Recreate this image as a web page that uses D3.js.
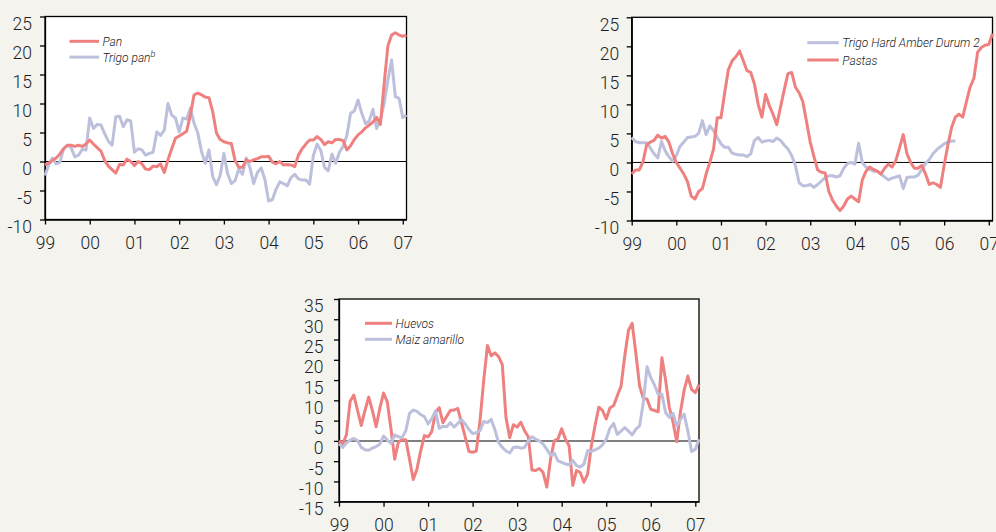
<!DOCTYPE html>
<html>
<head>
<meta charset="utf-8">
<script src="https://cdn.jsdelivr.net/npm/d3@7"></script>
<style>
    body { margin: 0; background: #f4f3ee; }
    svg { display: block; }
    .axis text { font-family: Roboto, "Liberation Sans", sans-serif; font-weight: 300; font-size: 17.5px; fill: #1e1e1e; }
    .axis line, .axis path { stroke: #000; stroke-width: 1.3px; }
    .legend text { font-family: Roboto, "Liberation Sans", sans-serif; font-weight: 300; font-style: italic; font-size: 12px; fill: #1a1a1a; }
</style>
</head>
<body>
<svg id="chart" width="996" height="532"></svg>
<script>

// x tick labels (one per January, 1999 - 2007)
let yearLabels = ["99", "00", "01", "02", "03", "04", "05", "06", "07"];

// monthly series, Jan 1999 onwards (% change)
let pan = [-0.6, -0.3, 0.2, 0.6, 1.3, 2.2, 2.8, 2.8, 2.6, 2.8, 2.6, 3.0,
    3.7, 3.0, 2.4, 1.8, 0.2, -0.8, -1.4, -2.0, -0.5, -0.6, 0.4, 0.0,
    -0.7, 0.0, -0.4, -1.3, -1.4, -0.8, -0.9, -0.4, -1.9, 0.3, 2.2, 4.0,
    4.4, 4.8, 5.2, 8.0, 11.5, 11.8, 11.5, 11.1, 11.0, 8.6, 4.9, 3.8,
    3.4, 3.2, 3.1, 0.2, -1.0, -1.0, 0.3, 0.0, 0.3, 0.5, 0.8, 0.8,
    0.9, -0.1, -0.4, 0.0, -0.6, -0.5, -0.6, -0.9, 1.1, 2.2, 3.0, 3.7,
    3.7, 4.3, 3.8, 2.9, 3.4, 3.2, 3.8, 3.8, 3.6, 2.0, 2.7, 3.8,
    4.6, 5.1, 5.8, 6.3, 6.8, 7.6, 6.4, 13.4, 19.9, 21.8, 22.2, 21.8,
    21.6, 21.8];

let trigoPan = [-2.4, -0.6, 0.6, -0.4, -0.1, 2.2, 2.8, 2.4, 0.8, 1.1, 2.1, 2.0,
    7.5, 5.7, 6.4, 6.3, 4.8, 3.5, 2.8, 7.7, 7.8, 6.0, 7.2, 7.0,
    1.6, 2.2, 2.0, 1.1, 1.4, 1.6, 5.1, 4.5, 5.4, 10.0, 8.0, 7.5,
    5.1, 7.5, 7.3, 9.2, 6.6, 4.9, 1.7, -0.3, 2.0, -2.6, -4.0, -2.4,
    1.4, -2.1, -3.8, -3.3, -1.3, -2.2, 0.6, -1.1, -3.8, -1.9, -1.1, -3.1,
    -6.8, -6.6, -4.8, -3.5, -3.8, -4.2, -2.8, -2.2, -3.0, -3.2, -3.2, -3.9,
    1.0, 3.0, 1.9, -1.0, -1.6, 1.3, -0.3, 1.6, 2.6, 4.5, 8.3, 8.7,
    10.6, 8.3, 6.5, 7.0, 9.0, 5.7, 7.2, 10.0, 14.0, 17.5, 11.2, 10.9,
    7.6, 8.0];

let trigoDurum = [4.3, 3.6, 3.4, 3.4, 3.4, 2.5, 1.5, 0.8, 3.6, 2.0, 1.0, 0.2,
    1.2, 2.8, 3.5, 4.3, 4.4, 4.5, 5.0, 7.2, 4.8, 6.3, 5.5, 4.3,
    3.2, 2.6, 2.6, 1.6, 1.4, 1.3, 1.3, 1.0, 1.5, 3.8, 4.3, 3.5,
    3.7, 3.8, 3.6, 4.2, 3.8, 3.0, 2.3, 1.2, -0.5, -3.5, -4.0, -4.0,
    -3.8, -4.3, -3.8, -3.2, -2.6, -2.3, -2.3, -2.5, -2.3, -1.0, -0.2, 0.0,
    -0.3, 3.3, 0.0, -0.8, -1.2, -1.5, -1.5, -2.0, -2.5, -3.0, -2.7, -2.5,
    -2.3, -4.5, -2.6, -2.5, -2.5, -2.2, -1.2, -0.2, 0.5, 1.5, 2.2, 2.7,
    3.2, 3.5, 3.7, 3.7];

let pastas = [-2.0, -1.3, -1.3, 0.0, 3.0, 3.5, 3.8, 4.7, 4.2, 4.5, 3.5, 1.5,
    0.0, -1.0, -2.0, -3.3, -5.8, -6.3, -5.0, -4.5, -2.0, 0.0, 2.3, 7.7,
    7.7, 12.0, 16.0, 17.5, 18.2, 19.2, 17.5, 15.8, 15.5, 13.5, 10.0, 7.8,
    11.7, 9.8, 8.3, 6.5, 9.5, 12.5, 15.3, 15.5, 13.0, 12.0, 10.5, 7.0,
    3.5, 1.0, -1.3, -1.7, -1.8, -5.0, -6.5, -7.5, -8.3, -7.5, -6.3, -5.8,
    -6.3, -6.8, -3.0, -1.5, -0.8, -1.2, -1.5, -2.0, -1.0, -0.3, -0.8, 0.3,
    2.5, 4.8, 1.5, 0.0, -1.0, -1.0, -0.5, -2.0, -3.8, -3.5, -3.8, -4.3,
    -0.5, 3.0, 6.0, 7.8, 8.3, 7.8, 10.5, 13.0, 14.5, 19.0, 19.8, 20.2,
    20.3, 22.2];

let huevos = [0.0, -0.8, 1.5, 9.8, 11.3, 7.5, 3.8, 7.5, 10.8, 7.5, 3.5, 8.0,
    11.8, 9.7, 3.0, -4.5, -0.3, 0.3, 0.3, -4.5, -9.5, -7.0, -2.5, 1.3,
    1.0, 2.3, 7.0, 8.2, 4.5, 6.0, 7.5, 7.6, 8.0, 4.5, 1.0, -2.6,
    -2.8, -2.5, 5.0, 15.0, 23.5, 21.0, 21.7, 20.8, 18.8, 5.7, 0.8, 4.0,
    3.4, 4.6, 2.5, 1.0, -7.2, -7.3, -6.8, -7.8, -11.4, -4.5, 0.0, 0.5,
    3.0, 0.5, -1.2, -11.0, -7.3, -7.8, -10.2, -8.2, -1.2, 3.8, 8.3, 7.5,
    5.4, 8.1, 8.7, 11.2, 13.5, 21.0, 27.3, 29.0, 21.5, 13.5, 10.5, 10.3,
    7.8, 7.5, 7.2, 20.5, 15.0, 8.3, 4.6, -0.2, 7.1, 12.5, 16.0, 12.7,
    11.9, 13.9];

let maiz = [-0.7, -1.6, -0.5, 0.2, 0.6, 0.1, -1.6, -2.2, -2.3, -1.8, -1.4, -0.8,
    1.2, 0.2, -0.6, 1.5, 1.0, 0.8, 2.5, 6.8, 7.6, 7.3, 6.5, 6.0,
    4.2, 5.5, 7.4, 3.1, 3.6, 3.5, 4.5, 3.4, 4.3, 5.3, 4.2, 2.8,
    1.8, 2.0, 2.5, 4.8, 4.5, 5.3, 2.8, -0.4, -1.6, -2.5, -3.0, -1.6,
    -1.5, -1.8, -1.6, 0.0, 1.0, 0.4, 0.0, -0.8, -2.1, -3.5, -3.0, -4.9,
    -5.3, -5.7, -5.9, -4.8, -6.1, -6.5, -5.7, -2.4, -2.6, -2.2, -1.8, -1.0,
    0.4, 3.1, 4.3, 1.6, 2.4, 3.3, 2.4, 1.5, 2.9, 3.7, 9.5, 18.3,
    15.6, 13.8, 11.5, 11.5, 7.0, 5.8, 6.8, 3.7, 5.3, 6.6, 2.4, -2.6,
    -2.1, 0.4];

let RED = "#ef8080";
let BLUE = "#bcc0dc";


class LineChart {

    // constructor: svg selection + panel config
    constructor(svg, config) {
        this.svg = svg;
        this.config = config;
        this.initVis();
    }

    initVis() {
        let vis = this;
        let c = vis.config;

        vis.width = c.right - c.left;
        vis.height = c.bottom - c.top;

        vis.g = vis.svg.append("g")
            .attr("transform", `translate(${c.left},${c.top})`);

        // white plot area
        vis.g.append("rect")
            .attr("width", vis.width)
            .attr("height", vis.height)
            .attr("fill", "#fff");

        // scales (x = month index from Jan 99)
        vis.x = d3.scaleLinear().domain([0, 97]).range([0, vis.width]);
        vis.y = d3.scaleLinear().domain(c.yDomain).range([vis.height, 0]);

        // axes
        vis.yAxis = d3.axisLeft(vis.y)
            .tickValues(d3.range(c.yDomain[0], c.yDomain[1] + 1, 5))
            .tickFormat(d => String(d))
            .tickSize(5)
            .tickSizeOuter(0)
            .tickPadding(c.yPad);

        vis.xAxis = d3.axisBottom(vis.x)
            .tickValues(yearLabels.map((d, i) => i * 12))
            .tickFormat((d, i) => yearLabels[i])
            .tickSize(5)
            .tickSizeOuter(0)
            .tickPadding(12);

        vis.g.append("g")
            .attr("class", "axis y-axis")
            .call(vis.yAxis)
            .selectAll("text")
            .attr("dy", "0.74em");

        vis.g.append("g")
            .attr("class", "axis x-axis")
            .attr("transform", `translate(0,${vis.height})`)
            .call(vis.xAxis);

        // zero line
        vis.g.append("line")
            .attr("x1", 0)
            .attr("x2", vis.width)
            .attr("y1", vis.y(0))
            .attr("y2", vis.y(0))
            .attr("stroke", c.zeroColor)
            .attr("stroke-width", c.zeroWidth);

        // frame
        vis.g.append("rect")
            .attr("width", vis.width)
            .attr("height", vis.height)
            .attr("fill", "none")
            .attr("stroke", "#000")
            .attr("stroke-width", 1.3);

        vis.line = d3.line()
            .x(d => vis.x(d.m))
            .y(d => vis.y(d.v));

        vis.wrangleData();
    }

    wrangleData() {
        let vis = this;

        vis.displayData = vis.config.series.map(s => ({
            name: s.name,
            sup: s.sup,
            color: s.color,
            values: s.values.map((v, i) => ({m: i, v: v}))
        }));

        vis.updateVis();
    }

    updateVis() {
        let vis = this;
        let c = vis.config;

        // lines, drawn in config.drawOrder
        vis.g.selectAll(".series")
            .data(c.drawOrder.map(i => vis.displayData[i]))
            .enter()
            .append("path")
            .attr("class", "series")
            .attr("d", d => vis.line(d.values))
            .attr("fill", "none")
            .attr("stroke", d => d.color)
            .attr("stroke-width", 3)
            .attr("stroke-linejoin", "round");

        // legend
        let legend = vis.g.append("g")
            .attr("class", "legend")
            .attr("transform", `translate(${c.legend[0]},${c.legend[1]})`);

        let items = legend.selectAll(".item")
            .data(vis.displayData)
            .enter()
            .append("g")
            .attr("transform", (d, i) => `translate(0,${i * c.legendStep})`);

        items.append("line")
            .attr("x1", 0)
            .attr("x2", c.legendLen)
            .attr("stroke", d => d.color)
            .attr("stroke-width", 3);

        let txt = items.append("text")
            .attr("x", c.legendLen + 3.5)
            .attr("y", 4.5)
            .text(d => d.name);

        txt.filter(d => d.sup)
            .append("tspan")
            .attr("dy", -5)
            .attr("font-size", "9px")
            .text(d => d.sup);
    }
}


let svg = d3.select("#chart");

new LineChart(svg, {
    left: 45, right: 406.5, top: 16.5, bottom: 219.5,
    yDomain: [-10, 25], yPad: 8,
    zeroColor: "#000", zeroWidth: 1,
    legend: [24.5, 24.8], legendStep: 15.8, legendLen: 29.5,
    drawOrder: [1, 0],
    series: [
        {name: "Pan", values: pan, color: RED},
        {name: "Trigo pan", sup: "b", values: trigoPan, color: BLUE}
    ]
});

new LineChart(svg, {
    left: 631.7, right: 992.5, top: 17.3, bottom: 220.5,
    yDomain: [-10, 25], yPad: 7.5,
    zeroColor: "#000", zeroWidth: 1,
    legend: [175.6, 25.4], legendStep: 17.3, legendLen: 31.5,
    drawOrder: [0, 1],
    series: [
        {name: "Trigo Hard Amber Durum 2", values: trigoDurum, color: BLUE},
        {name: "Pastas", values: pastas, color: RED}
    ]
});

new LineChart(svg, {
    left: 339, right: 699, top: 299, bottom: 501.7,
    yDomain: [-15, 35], yPad: 10.5,
    zeroColor: "#555", zeroWidth: 1.5,
    legend: [26, 24.3], legendStep: 16, legendLen: 27,
    drawOrder: [0, 1],
    series: [
        {name: "Huevos", values: huevos, color: RED},
        {name: "Maiz amarillo", values: maiz, color: BLUE}
    ]
});

</script>
</body>
</html>
